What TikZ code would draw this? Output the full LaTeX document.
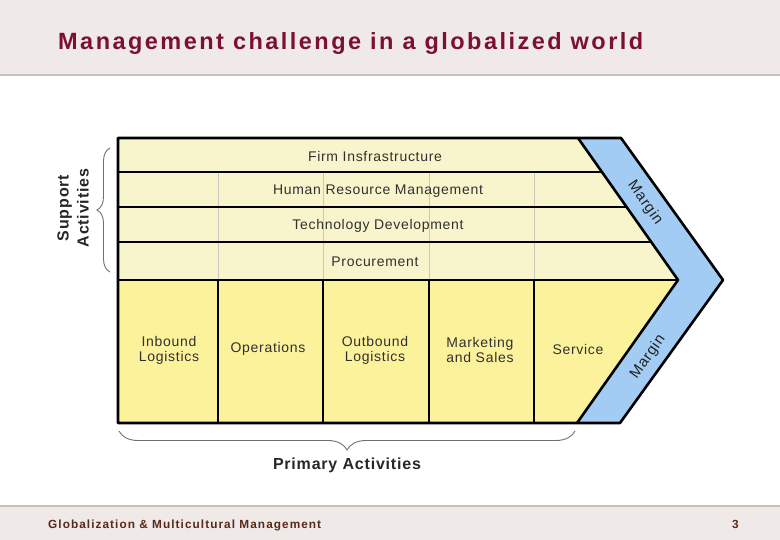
\documentclass[tikz,border=0pt]{standalone}
\usepackage{fontspec}
\setmainfont{Liberation Sans}
\newfontfamily\titlefam{Liberation Sans}[LetterSpace=10.5]
\newfontfamily\footfam{Liberation Sans}[LetterSpace=9]
\newfontfamily\lblfam{Liberation Sans}[LetterSpace=5]
\newfontfamily\headfam{Liberation Sans}[LetterSpace=5]
\usetikzlibrary{decorations.pathreplacing}
\definecolor{hdrbg}{HTML}{EFE9E7}
\definecolor{hdrline}{HTML}{C8C0BE}
\definecolor{titlered}{HTML}{7D1030}
\definecolor{footbrown}{HTML}{5A2818}
\definecolor{supyellow}{HTML}{F8F5CC}
\definecolor{primyellow}{HTML}{FDF29C}
\definecolor{marginblue}{HTML}{A3CCF4}
\definecolor{labelgray}{HTML}{303030}
\definecolor{bracegray}{HTML}{707070}
\definecolor{gridgray}{HTML}{C8C8C0}
\begin{document}
\begin{tikzpicture}[x=1pt,y=-1pt,
  lbl/.style={font=\lblfam\fontsize{14}{15}\selectfont, text=labelgray, inner sep=0pt, align=center},
  marglbl/.style={font=\lblfam\fontsize{15}{16}\selectfont, text=labelgray!70!black, inner sep=0pt},
  headlbl/.style={font=\headfam\bfseries\fontsize{16}{20}\selectfont, text=labelgray!80!black, inner sep=0pt, align=center},
  thinrule/.style={black, line width=1.1},
  gridrule/.style={gridgray, line width=0.8},
  bracestyle/.style={bracegray, line width=0.9, decorate},
  thickrule/.style={black, line width=2.6, line join=round}]
\useasboundingbox (0,0) rectangle (780,540);
\fill[white] (0,0) rectangle (780,540);
% header and footer bands
\fill[hdrbg] (0,0) rectangle (780,75);
\draw[hdrline, line width=1.5] (0,75) -- (780,75);
\fill[hdrbg] (0,506) rectangle (780,540);
\draw[hdrline, line width=1.5] (0,506) -- (780,506);
\node[anchor=base west, inner sep=0pt, text=titlered, font=\titlefam\bfseries\fontsize{23.5}{26}\selectfont] (title) at (58,50) {Management challenge in a globalized world};
\node[anchor=base west, inner sep=0pt, text=footbrown, font=\footfam\bfseries\fontsize{11.8}{14}\selectfont] (footer) at (48,528) {Globalization \& Multicultural Management};
\node[anchor=base east, inner sep=0pt, text=footbrown, font=\footfam\bfseries\fontsize{11.8}{14}\selectfont] (page) at (739,528) {3};
% key points
\coordinate (TL) at (118,138);
\coordinate (BL) at (118,423);
\coordinate (ML) at (118,280);
\coordinate (iT) at (578,138);
\coordinate (iM) at (678,280);
\coordinate (iB) at (577,423);
\coordinate (oT) at (621,138);
\coordinate (oM) at (723,280);
\coordinate (oB) at (620,423);
% fills
\fill[supyellow] (TL) -- (iT) -- (iM) -- (ML) -- cycle;
\fill[primyellow] (ML) -- (iM) -- (iB) -- (BL) -- cycle;
\fill[marginblue] (iT) -- (oT) -- (oM) -- (oB) -- (iB) -- (iM) -- cycle;
% support grid
\foreach \xx in {218,323,429,534} \draw[gridrule] (\xx,172) -- (\xx,280);
\draw[thinrule] (118,172) -- (602,172);
\draw[thinrule] (118,207) -- (627,207);
\draw[thinrule] (118,242) -- (651,242);
% primary dividers
\foreach \xx in {218,323,429,534} \draw[black, line width=1.6] (\xx,280) -- (\xx,423);
\draw[black, line width=2.4] (ML) -- (iM);
% margin band edges and outline
\draw[thickrule] (iT) -- (iM) -- (iB);
\draw[thickrule] (TL) -- (oT) -- (oM) -- (oB) -- (BL) -- cycle;
% support labels
\node[lbl, anchor=base] (firm) at (375,162) {Firm Insfrastructure};
\node[lbl, anchor=base] (hrm) at (378,195) {Human Resource Management};
\node[lbl, anchor=base] (tech) at (378,230) {Technology Development};
\node[lbl, anchor=base] (proc) at (375,267) {Procurement};
% primary labels
\node[lbl] (inb) at (169,350) {Inbound\\Logistics};
\node[lbl] (ops) at (268,349) {Operations};
\node[lbl] (outb) at (375,350) {Outbound\\Logistics};
\node[lbl] (mkt) at (480,350) {Marketing\\and Sales};
\node[lbl] (serv) at (578,349) {Service};
% margin labels
\node[marglbl, rotate=-54.8] (margtop) at (645,203) {Margin};
\node[marglbl, rotate=54.8] (margbot) at (648,357) {Margin};
% braces
\draw[bracestyle, decoration={brace, amplitude=13}] (110,272) -- (110,148);
\draw[bracestyle, decoration={brace, amplitude=19}] (575,431) -- (119,431);
\node[headlbl, rotate=90] (support) at (73,208) {Support\\Activities};
\node[headlbl, anchor=base] (primary) at (347,469) {Primary Activities};
\end{tikzpicture}
\end{document}
